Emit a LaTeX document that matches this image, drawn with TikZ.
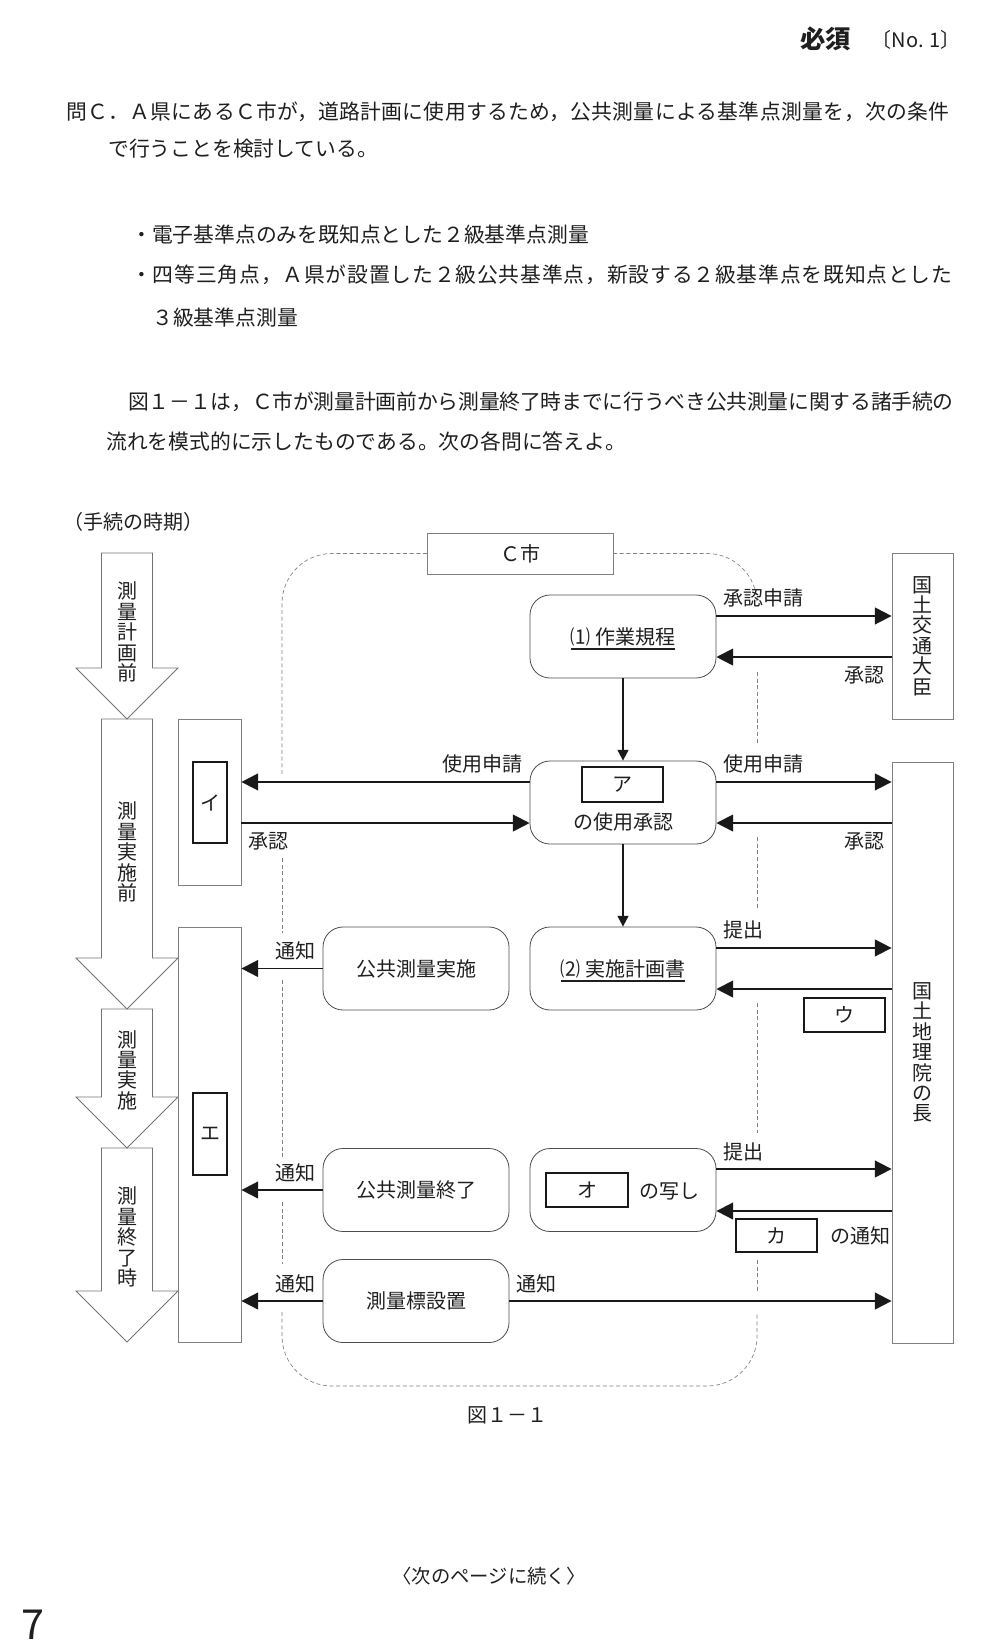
\documentclass[tikz,border=0pt]{standalone}
\usepackage{fontspec}
\setmainfont{Noto Sans CJK JP}
\usetikzlibrary{arrows.meta, positioning}

\newcommand{\zufont}{\fontsize{15pt}{15.3pt}\selectfont}
\newcommand{\honbunfont}{\fontsize{15.6pt}{18pt}\selectfont}
\newsavebox{\kasenbox}
\newcommand{\kasen}[1]{\sbox{\kasenbox}{#1}\rlap{\smash{\rule[-4.3pt]{\wd\kasenbox}{1.3pt}}}\usebox{\kasenbox}}

\begin{document}
\begin{tikzpicture}[
  x=0.75pt, y=-0.75pt,
  every node/.style={font=\zufont, text=black!88},
  honbun/.style={font=\honbunfont, anchor=west, inner sep=0pt},
  waku/.style={draw=black!50, line width=0.6pt, fill=white, inner sep=0pt, align=center},
  proc/.style={draw=black!70, line width=0.6pt, rounded corners=15pt, minimum width=139.5pt, minimum height=62.25pt, inner sep=0pt},
  ans/.style={draw=black!90, line width=1.8pt, inner sep=0pt},
  phase/.style={draw=black!55, line width=0.6pt},
  tate/.style={align=center, inner sep=0pt},
  cframe/.style={draw=black!50, line width=0.5pt, dash pattern=on 3pt off 2pt, rounded corners=37.5pt},
  flow/.style={draw=black!90, line width=1.4pt, -{Triangle[length=12.5pt, width=12.5pt]}},
  godown/.style={draw=black!90, line width=1.4pt, -{Triangle[length=8pt, width=8pt]}},
  lab/.style={inner sep=0pt},
  overL/.style={lab, anchor=south west, xshift=4.5pt, yshift=5.6pt},
  overR/.style={lab, anchor=south east, xshift=-4.5pt, yshift=5.6pt},
  underL/.style={lab, anchor=north west, xshift=4.5pt, yshift=-6pt},
  underR/.style={lab, anchor=north east, xshift=-4.5pt, yshift=-6pt}
]
\useasboundingbox (0,0) rectangle (981,1642);

% 問題文
\node[honbun] (head1) at (800,39) {\fontsize{19pt}{19pt}\selectfont\bfseries 必須};
\node[anchor=east, inner sep=0pt] (head2) at (961,40) {〔No. 1〕};
\node[honbun] (q1) at (66,112) {\addfontfeature{LetterSpace=1.5}問Ｃ．Ａ県にあるＣ市が，道路計画に使用するため，公共測量による基準点測量を，次の条件};
\node[honbun] (q2) at (108,149) {で行うことを検討している。};
\node[honbun] (c1) at (131,235) {・電子基準点のみを既知点とした２級基準点測量};
\node[honbun] (c2) at (131,275) {\addfontfeature{LetterSpace=4}・四等三角点，Ａ県が設置した２級公共基準点，新設する２級基準点を既知点とした};
\node[honbun] (c3) at (152,318) {３級基準点測量};
\node[honbun] (q3) at (128,402) {\addfontfeature{LetterSpace=-0.8}図１－１は，Ｃ市が測量計画前から測量終了時までに行うべき公共測量に関する諸手続の};
\node[honbun] (q4) at (106,441) {流れを模式的に示したものである。次の各問に答えよ。};

% 手続の時期
\node[anchor=west, inner sep=0pt] (jiki) at (63,522) {（手続の時期）};
\foreach \t/\h/\e in {553/668/719, 719/958/1009, 1009/1097/1148, 1148/1291/1342}
  \draw[phase] (101.5,\t) -- (101.5,\h) -- (76,\h) -- (127,\e) -- (178,\h) -- (152.5,\h) -- (152.5,\t) -- cycle;
\node[tate] (pre) at (127,632) {測\\量\\計\\画\\前};
\node[tate] (before) at (127,852) {測\\量\\実\\施\\前};
\node[tate] (during) at (127,1070) {測\\量\\実\\施};
\node[tate] (after) at (127,1237) {測\\量\\終\\了\\時};

% C市の枠
\draw[cframe] (427,553.5) -| (282,775);
\draw[cframe] (613,553.5) -| (757,603);
\foreach \a/\b in {858/933, 980/1157, 1202/1264}
  \draw[cframe] (282,\a) -- (282,\b);
\foreach \a/\b in {672/743, 837/910, 1003/1133, 1260/1293}
  \draw[cframe] (757,\a) -- (757,\b);
\draw[cframe] (282,1312) |- (520,1386) -| (757,1313);
\node[waku, minimum width=139.5pt, minimum height=30.75pt] (cshi) at (520,553.5) {Ｃ市};

% C市の手続
\node[proc] (kisoku) at (623,636.5) {\kasen{⑴ 作業規程}};
\node[proc] (shiyo) at (623,802.5) {};
\node[ans, minimum width=60.75pt, minimum height=26.25pt] (ansA) at (622.5,784.5) {ア};
\node[inner sep=0pt] (shiyoT) at (623,822) {の使用承認};
\node[proc] (keikaku) at (623,968.5) {\kasen{⑵ 実施計画書}};
\node[proc] (utsushi) at (623,1190) {};
\node[ans, minimum width=61.5pt, minimum height=25.5pt] (ansO) at (587,1190) {オ};
\node[inner sep=0pt] (utsushiT) at (669,1191) {の写し};
\node[proc] (jisshi) at (416,968.5) {公共測量実施};
\node[proc] (shuryo) at (416,1190) {公共測量終了};
\node[proc] (hyoshiki) at (416,1301) {測量標設置};

% 相手方
\node[waku, minimum width=45.75pt, minimum height=124.5pt] (daijin) at (922.5,636) {国\\土\\交\\通\\大\\臣};
\node[waku, minimum width=45.75pt, minimum height=435.75pt] (chiriin) at (922.5,1052.5) {国\\土\\地\\理\\院\\の\\長};
\node[waku, minimum width=47.25pt, minimum height=124.5pt] (boxI) at (209.5,802) {};
\node[ans, minimum width=25.5pt, minimum height=60.75pt] (ansI) at (210,802.5) {イ};
\node[waku, minimum width=47.25pt, minimum height=311.25pt] (boxE) at (209.5,1134.5) {};
\node[ans, minimum width=25.5pt, minimum height=61.5pt] (ansE) at (210,1134) {エ};
\node[ans, minimum width=60.75pt, minimum height=25.5pt] (ansU) at (844.5,1015) {ウ};
\node[ans, minimum width=60.75pt, minimum height=24.75pt] (ansKa) at (776.5,1235.5) {カ};
\node[inner sep=0pt] (kaT) at (860,1236) {の通知};

% 縦の流れ
\draw[godown] (kisoku.south) -- (shiyo.north);
\draw[godown] (shiyo.south) -- (keikaku.north);

% 国土交通大臣とのやりとり
\coordinate (go1) at ([yshift=15.4pt]kisoku.east);
\coordinate (back1) at ([yshift=-15.4pt]kisoku.east);
\draw[flow] (go1) -- node[overL, pos=0] (tk1) {承認申請} (go1 -| daijin.west);
\draw[flow] (back1 -| daijin.west) -- node[underR, pos=0] (tk2) {承認} (back1);

% 国土地理院の長とのやりとり
\coordinate (go2) at ([yshift=15.4pt]shiyo.east);
\coordinate (back2) at ([yshift=-15.4pt]shiyo.east);
\draw[flow] (go2) -- node[overL, pos=0] (tk3) {使用申請} (go2 -| chiriin.west);
\draw[flow] (back2 -| chiriin.west) -- node[underR, pos=0] (tk4) {承認} (back2);
\coordinate (go3) at ([yshift=15.4pt]keikaku.east);
\coordinate (back3) at ([yshift=-15.4pt]keikaku.east);
\draw[flow] (go3) -- node[overL, pos=0] (tk7) {提出} (go3 -| chiriin.west);
\draw[flow] (back3 -| chiriin.west) -- (back3);
\coordinate (go4) at ([yshift=15.75pt]utsushi.east);
\coordinate (back4) at ([yshift=-15.75pt]utsushi.east);
\draw[flow] (go4) -- node[overL, pos=0] (tk8) {提出} (go4 -| chiriin.west);
\draw[flow] (back4 -| chiriin.west) -- (back4);
\draw[flow] (hyoshiki.east) -- node[overL, pos=0] (tk12) {通知} (hyoshiki.east -| chiriin.west);

% イとのやりとり
\coordinate (go2L) at ([yshift=15.4pt]shiyo.west);
\coordinate (back2L) at ([yshift=-15.4pt]shiyo.west);
\draw[flow] (go2L) -- node[overR, pos=0] (tk5) {使用申請} (go2L -| boxI.east);
\draw[flow] (back2L -| boxI.east) -- node[underL, pos=0] (tk6) {承認} (back2L);

% エへの通知
\draw[flow] (jisshi.west) -- node[overR, pos=0] (tk9) {通知} (jisshi.west -| boxE.east);
\draw[flow] (shuryo.west) -- node[overR, pos=0] (tk10) {通知} (shuryo.west -| boxE.east);
\draw[flow] (hyoshiki.west) -- node[overR, pos=0] (tk11) {通知} (hyoshiki.west -| boxE.east);

% 図番号など
\node (zu) at (507,1415) {図１－１};
\node[font=\fontsize{14.5pt}{15pt}\selectfont] (tsuzuku) at (489,1576) {〈次のページに続く〉};
\node[font=\fontsize{31pt}{31pt}\selectfont, anchor=base west, inner sep=0pt] (page) at (21,1639) {7};
\end{tikzpicture}
\end{document}
